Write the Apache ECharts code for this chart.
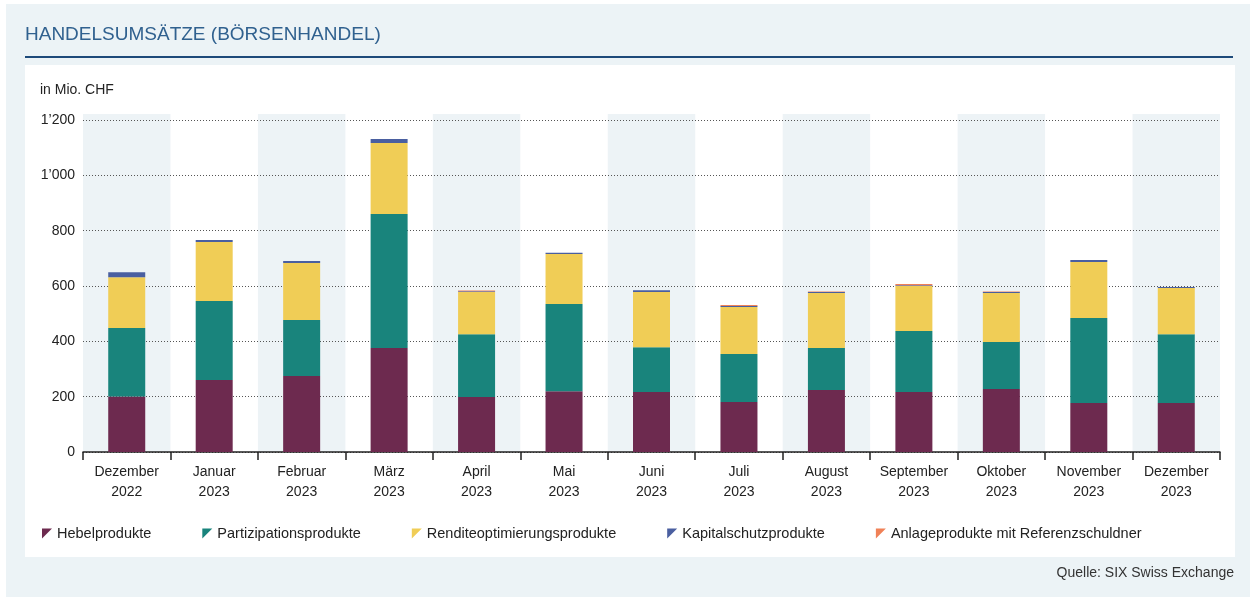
<!DOCTYPE html>
<html>
<head>
<meta charset="utf-8">
<script src="https://cdn.jsdelivr.net/npm/echarts@6/dist/echarts.min.js"></script>
<style>
  html, body { margin: 0; padding: 0; background: #fff; }
  #chart { width: 1256px; height: 601px; }
</style>
</head>
<body>
<div id="chart"></div>
<script>
// Monate
var months = ['Dezember\n2022', 'Januar\n2023', 'Februar\n2023', 'März\n2023', 'April\n2023', 'Mai\n2023',
    'Juni\n2023', 'Juli\n2023', 'August\n2023', 'September\n2023', 'Oktober\n2023', 'November\n2023', 'Dezember\n2023'];

// Werte in Mio. CHF
var hebel = [201, 260, 275, 376, 199, 220, 217, 181, 224, 217, 228, 177, 177];
var partizipation = [247, 286, 202, 484, 227, 315, 162, 173, 152, 220, 170, 307, 249];
var rendite = [184, 213, 206, 257, 152, 181, 199, 170, 199, 163, 177, 203, 167];
var kapitalschutz = [18, 7, 7, 14, 3, 4, 7, 4, 3, 3, 3, 7, 3];
var anlage = [0, 0, 0, 0, 3, 0, 0, 3, 2, 4, 2, 0, 0];

var yTicks = [0, 200, 400, 600, 800, 1000, 1200];

// Hintergrundstreifen (jeder zweite Monat)
var bandValue = 1222;
var bands = months.map(function (m, i) { return i % 2 === 0 ? bandValue : '-'; });

var seriesNames = ['Hebelprodukte', 'Partizipationsprodukte', 'Renditeoptimierungsprodukte',
    'Kapitalschutzprodukte', 'Anlageprodukte mit Referenzschuldner'];
var seriesData = [hebel, partizipation, rendite, kapitalschutz, anlage];
var colors = ['#6d2a4f', '#19847c', '#f0cd56', '#4a5fa0', '#f08157'];

var font = '"Liberation Sans", Arial, sans-serif';

function fmt(v) {
    if (v >= 1000) {
        var s = String(v);
        return s.slice(0, s.length - 3) + '\u2019' + s.slice(s.length - 3);
    }
    return String(v);
}

var series = [{
    name: 'band',
    type: 'bar',
    xAxisIndex: 1,
    data: bands,
    barWidth: '100%',
    clip: false,
    silent: true,
    z: -1,
    itemStyle: { color: '#edf3f6' }
}];
seriesNames.forEach(function (name, i) {
    series.push({
        name: name,
        type: 'bar',
        stack: 'total',
        barWidth: 37,
        data: seriesData[i],
        itemStyle: { color: colors[i] }
    });
});

var myChart = echarts.init(document.getElementById('chart'));
var option = {
    animation: false,
    textStyle: { fontFamily: font },
    graphic: [
        { type: 'rect', z: -10, shape: { x: 6, y: 4, width: 1244, height: 593 }, style: { fill: '#ecf3f6' } },
        { type: 'rect', z: -9, shape: { x: 25, y: 65, width: 1210, height: 492 }, style: { fill: '#ffffff' } },
        { type: 'rect', z: -9, shape: { x: 25, y: 56, width: 1208, height: 2 }, style: { fill: '#1d4a7a' } },
        { type: 'text', left: 25, top: 25, style: { text: 'HANDELSUMSÄTZE (BÖRSENHANDEL)', fill: '#30618f', font: '19px ' + font } },
        { type: 'text', left: 40, top: 83, style: { text: 'in Mio. CHF', fill: '#222', font: '14px ' + font } },
        { type: 'text', right: 22, top: 566, style: { text: 'Quelle: SIX Swiss Exchange', fill: '#333', font: '14px ' + font } }
    ],
    legend: {
        data: seriesNames,
        left: 37,
        top: 521,
        itemWidth: 10,
        itemHeight: 10,
        itemGap: 51,
        icon: 'path://M0,0 L10,0 L0,10 Z',
        textStyle: { fontSize: 14.5, color: '#222', fontFamily: font }
    },
    grid: { left: 83, right: 36, top: 120, bottom: 149 },
    xAxis: [{
        type: 'category',
        data: months,
        axisLine: { lineStyle: { color: '#222', width: 1.5 } },
        axisTick: { show: true, length: 8, lineStyle: { color: '#222', width: 1.5 } },
        axisLabel: { color: '#222', fontSize: 14, lineHeight: 20, margin: 10, interval: 0 }
    }, {
        type: 'category',
        data: months,
        show: false
    }],
    yAxis: {
        type: 'value',
        min: yTicks[0],
        max: yTicks[yTicks.length - 1],
        interval: 200,
        axisLine: { show: false },
        axisTick: { show: false },
        axisLabel: { color: '#222', fontSize: 14, margin: 8, formatter: fmt },
        splitLine: { lineStyle: { color: '#555', type: [1, 2], width: 1 } }
    },
    series: series
};
myChart.setOption(option);
</script>
</body>
</html>
